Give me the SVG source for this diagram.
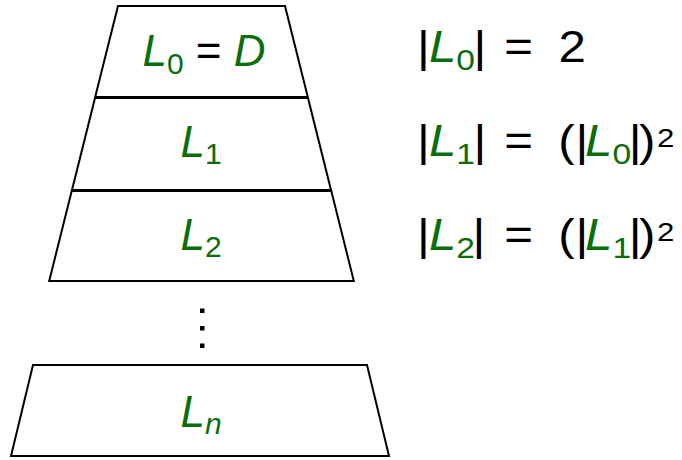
<svg xmlns="http://www.w3.org/2000/svg" width="682" height="460" viewBox="0 0 682 460">
<style>
.shape{fill:#fff;stroke:#000;stroke-width:2;stroke-linejoin:miter}
text{font-family:"Liberation Sans",Arial,sans-serif;font-size:44px;fill:#000}
.v{font-style:italic;fill:#0a6e0a}
.s{font-size:30px;fill:#0a6e0a}
.p{font-size:26px}
.dot{fill:#000}
</style>
<g id="layer0">
<polygon class="shape" points="118,6 285,6 307.8,97 95.2,97"/>
<text x="204" y="66" text-anchor="middle"><tspan class="v">L</tspan><tspan class="s" dy="8">0</tspan><tspan dy="-8"> = </tspan><tspan class="v">D</tspan></text>
</g>
<g id="layer1">
<polygon class="shape" points="95,98 308,98 331,190 72,190"/>
<text x="201" y="157" text-anchor="middle"><tspan class="v">L</tspan><tspan class="s" dy="7">1</tspan></text>
</g>
<g id="layer2">
<polygon class="shape" points="71.7,191 331.3,191 353.8,281 49.2,281"/>
<text x="201" y="250" text-anchor="middle"><tspan class="v">L</tspan><tspan class="s" dy="7">2</tspan></text>
</g>
<g id="ellipsis">
<rect class="dot" x="200" y="308.5" width="4.5" height="4.5"/>
<rect class="dot" x="200" y="326" width="4.5" height="4.5"/>
<rect class="dot" x="200" y="343.5" width="4.5" height="4.5"/>
</g>
<g id="layern">
<polygon class="shape" points="33,365 367,365 389,456 11,456"/>
<text x="201" y="427" text-anchor="middle"><tspan class="v">L</tspan><tspan class="v" font-size="30" dy="7">n</tspan></text>
</g>
<g id="eq0">
<text transform="translate(0,62) scale(1.12,1)"><tspan x="372.3">|</tspan><tspan x="383" class="v">L</tspan><tspan class="s" dy="8">0</tspan><tspan x="422.7" dy="-8">|</tspan><tspan x="450.3">=</tspan><tspan x="498.7">2</tspan></text>
</g>
<g id="eq1">
<text transform="translate(0,156) scale(1.12,1)"><tspan x="372.3">|</tspan><tspan x="383" class="v">L</tspan><tspan class="s" dy="8">1</tspan><tspan x="422.7" dy="-8">|</tspan><tspan x="450.3">=</tspan><tspan x="498.5">(</tspan><tspan x="513.8">|</tspan><tspan x="522.3" class="v">L</tspan><tspan class="s" dy="8">0</tspan><tspan x="561.3" dy="-8">|</tspan><tspan x="570.5">)</tspan></text>
<text class="p" transform="translate(657,147) scale(1.2,1)">2</text>
</g>
<g id="eq2">
<text transform="translate(0,250) scale(1.12,1)"><tspan x="372.3">|</tspan><tspan x="383" class="v">L</tspan><tspan class="s" dy="8">2</tspan><tspan x="421.8" dy="-8">|</tspan><tspan x="450.3">=</tspan><tspan x="498.5">(</tspan><tspan x="513.8">|</tspan><tspan x="522.3" class="v">L</tspan><tspan class="s" dy="8">1</tspan><tspan x="561.3" dy="-8">|</tspan><tspan x="570.5">)</tspan></text>
<text class="p" transform="translate(657,241) scale(1.2,1)">2</text>
</g>
</svg>
